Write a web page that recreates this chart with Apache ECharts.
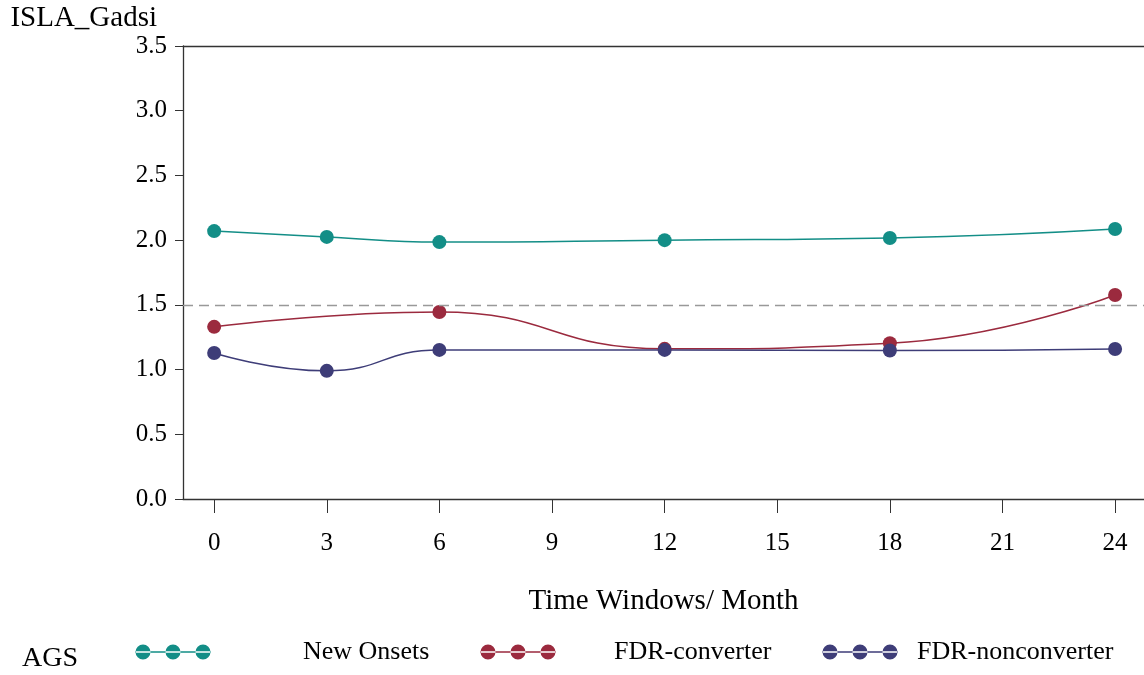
<!DOCTYPE html>
<html>
<head>
<meta charset="utf-8">
<title>ISLA_Gadsi</title>
<script src="https://cdn.jsdelivr.net/npm/echarts@6/dist/echarts.min.js"></script>
<style>
  html, body { margin: 0; padding: 0; background: #fff; }
  #chart { width: 1144px; height: 675px; }
</style>
</head>
<body>
<div id="chart"></div>
<script>
// data
const xTicks = [0, 3, 6, 9, 12, 15, 18, 21, 24]
const newOnsets = [[0, 2.07], [3, 2.025], [6, 1.985], [12, 2.0], [18, 2.017], [24, 2.086]]
const fdrConverter = [[0, 1.33], [6, 1.445], [12, 1.16], [18, 1.203], [24, 1.576]]
const fdrNonconverter = [[0, 1.128], [3, 0.99], [6, 1.152], [12, 1.152], [18, 1.147], [24, 1.159]]
const refLine = 1.5

const FONT = 'Liberation Serif'
const TEAL = '#138e87'
const RED = '#9b2a3e'
const NAVY = '#3e3d78'

// line with three dots, used as legend icon
const dotsIcon = 'path://M0 7.2H76V8.8H0Z' +
  'M0.5 8A7.5 7.5 0 1 0 15.5 8A7.5 7.5 0 1 0 0.5 8Z' +
  'M30.5 8A7.5 7.5 0 1 0 45.5 8A7.5 7.5 0 1 0 30.5 8Z' +
  'M60.5 8A7.5 7.5 0 1 0 75.5 8A7.5 7.5 0 1 0 60.5 8Z'

const chart = echarts.init(document.getElementById('chart'))

const makeLegend = (name, left, textPad) => ({
  data: [name],
  left: left,
  top: 639,
  padding: 0,
  icon: dotsIcon,
  itemWidth: 76,
  itemHeight: 16,
  selectedMode: false,
  itemStyle: { borderWidth: 0 },
  textStyle: { fontFamily: FONT, fontSize: 26, color: '#000', padding: [12, 0, 0, textPad] },
})

const makeSeries = (name, data, color) => ({
  name: name,
  type: 'line',
  data: data,
  smooth: 0.5,
  symbol: 'circle',
  symbolSize: 14,
  itemStyle: { color: color },
  lineStyle: { color: color, width: 1.5 },
})

const option = {
  animation: false,
  textStyle: { fontFamily: FONT },
  graphic: [
    {
      type: 'text',
      left: 22,
      top: 645,
      style: { text: 'AGS', fontFamily: FONT, fontSize: 28, fill: '#000' },
    },
  ],
  legend: [
    makeLegend('New Onsets', 135, 87),
    makeLegend('FDR-converter', 480, 53),
    makeLegend('FDR-nonconverter', 822, 14),
  ],
  grid: { left: 183, top: 46, right: 0, bottom: 176 },
  xAxis: [
    {
      type: 'value',
      min: -0.83,
      max: 24.77,
      name: 'Time Windows/ Month',
      nameLocation: 'middle',
      nameGap: 88,
      nameTextStyle: { fontFamily: FONT, fontSize: 29, color: '#000' },
      axisLine: { show: true, onZero: false, lineStyle: { color: '#333', width: 1.3 } },
      axisTick: { show: true, length: 14, customValues: xTicks, lineStyle: { color: '#333' } },
      axisLabel: { customValues: xTicks, fontFamily: FONT, fontSize: 25, color: '#000', margin: 32 },
      splitLine: { show: false },
    },
    {
      // top frame line
      type: 'value',
      position: 'top',
      min: -0.83,
      max: 24.77,
      axisLine: { show: true, onZero: false, lineStyle: { color: '#333', width: 1.3 } },
      axisTick: { show: false },
      axisLabel: { show: false },
      splitLine: { show: false },
    },
  ],
  yAxis: {
    type: 'value',
    min: 0,
    max: 3.5,
    interval: 0.5,
    name: 'ISLA_Gadsi',
    nameGap: 13,
    nameTextStyle: { fontFamily: FONT, fontSize: 29, color: '#000', align: 'right', padding: [0, 26, 0, 0] },
    axisLine: { show: true, onZero: false, lineStyle: { color: '#333', width: 1.3 } },
    axisTick: { show: true, length: 8, lineStyle: { color: '#333' } },
    axisLabel: {
      fontFamily: FONT,
      fontSize: 25,
      color: '#000',
      margin: 16,
      formatter: (v) => v.toFixed(1),
    },
    splitLine: { show: false },
  },
  series: [
    makeSeries('New Onsets', newOnsets, TEAL),
    Object.assign(makeSeries('FDR-converter', fdrConverter, RED), {
      markLine: {
        silent: true,
        symbol: 'none',
        label: { show: false },
        lineStyle: { color: '#999', type: [10, 6], width: 1.3 },
        data: [{ yAxis: refLine }],
      },
    }),
    makeSeries('FDR-nonconverter', fdrNonconverter, NAVY),
  ],
}

chart.setOption(option)
</script>
</body>
</html>
